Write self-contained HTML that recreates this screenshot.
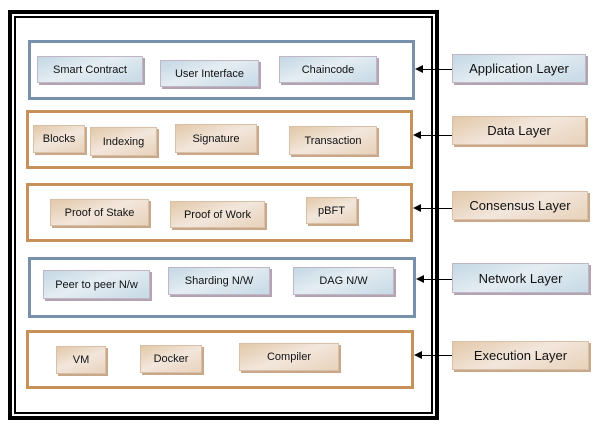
<!DOCTYPE html>
<html><head><style>
body{margin:0;width:604px;height:429px;background:#fff;position:relative;overflow:hidden;font-family:"Liberation Sans",sans-serif;}
div{position:absolute;box-sizing:border-box;}
.o1{left:8px;top:10px;width:431px;height:410px;border:4px solid #000;}
.o2{left:14px;top:16px;width:419px;height:398px;border:2px solid #000;}
.lb{border:3px solid #7790ab;}
.lo{border:3px solid #c8915a;}
.b,.r{display:flex;align-items:center;justify-content:center;font-size:11px;color:#111;box-shadow:2px 2px 0 #b3a3b3;}
.b{background:linear-gradient(160deg,#c3d7e4 0%,#e4edf2 45%,#c6d9e6 100%);border:1px solid #c0b6c4;}
.r{background:linear-gradient(160deg,#e2c8a8 0%,#f2e6dc 50%,#e8d2ba 100%);border:1px solid #d8c0a8;box-shadow:2px 2px 0 #c8a888;}
.L{font-size:13px;}
.ln{height:1px;background:#000;}
.ah{width:0;height:0;border-top:4px solid transparent;border-bottom:4px solid transparent;border-right:8px solid #000;}
</style></head><body>
<div class="o1"></div><div class="o2"></div>

<div class="lb" style="left:28px;top:40px;width:387px;height:60px"></div>
<div class="b" style="left:37px;top:56px;width:106px;height:27px">Smart Contract</div>
<div class="b" style="left:160px;top:60px;width:99px;height:27px">User Interface</div>
<div class="b" style="left:279px;top:56px;width:98px;height:27px">Chaincode</div>

<div class="lo" style="left:26px;top:110px;width:387px;height:59px"></div>
<div class="r" style="left:33px;top:125px;width:52px;height:28px">Blocks</div>
<div class="r" style="left:90px;top:127px;width:67px;height:29px">Indexing</div>
<div class="r" style="left:175px;top:124px;width:82px;height:29px">Signature</div>
<div class="r" style="left:289px;top:126px;width:88px;height:29px">Transaction</div>

<div class="lo" style="left:26px;top:183px;width:387px;height:59px"></div>
<div class="r" style="left:50px;top:199px;width:99px;height:27px">Proof of Stake</div>
<div class="r" style="left:170px;top:201px;width:95px;height:27px">Proof of Work</div>
<div class="r" style="left:306px;top:197px;width:51px;height:27px">pBFT</div>

<div class="lb" style="left:28px;top:257px;width:388px;height:61px"></div>
<div class="b" style="left:43px;top:270px;width:107px;height:29px">Peer to peer N/w</div>
<div class="b" style="left:168px;top:267px;width:102px;height:28px">Sharding N/W</div>
<div class="b" style="left:293px;top:267px;width:101px;height:28px">DAG N/W</div>

<div class="lo" style="left:26px;top:330px;width:388px;height:59px"></div>
<div class="r" style="left:56px;top:346px;width:50px;height:28px">VM</div>
<div class="r" style="left:140px;top:345px;width:62px;height:28px">Docker</div>
<div class="r" style="left:239px;top:343px;width:100px;height:28px">Compiler</div>

<div class="b L" style="left:452px;top:54px;width:134px;height:29px">Application Layer</div>
<div class="r L" style="left:452px;top:116px;width:134px;height:29px">Data Layer</div>
<div class="r L" style="left:452px;top:191px;width:136px;height:29px">Consensus Layer</div>
<div class="b L" style="left:452px;top:263px;width:137px;height:30px">Network Layer</div>
<div class="r L" style="left:452px;top:341px;width:137px;height:29px">Execution Layer</div>

<div class="ln" style="left:420px;top:69px;width:32px"></div><div class="ah" style="left:415px;top:65px"></div>
<div class="ln" style="left:418px;top:135px;width:34px"></div><div class="ah" style="left:413px;top:131px"></div>
<div class="ln" style="left:418px;top:208px;width:34px"></div><div class="ah" style="left:413px;top:204px"></div>
<div class="ln" style="left:421px;top:279px;width:31px"></div><div class="ah" style="left:416px;top:275px"></div>
<div class="ln" style="left:419px;top:355px;width:33px"></div><div class="ah" style="left:414px;top:351px"></div>
</body></html>
